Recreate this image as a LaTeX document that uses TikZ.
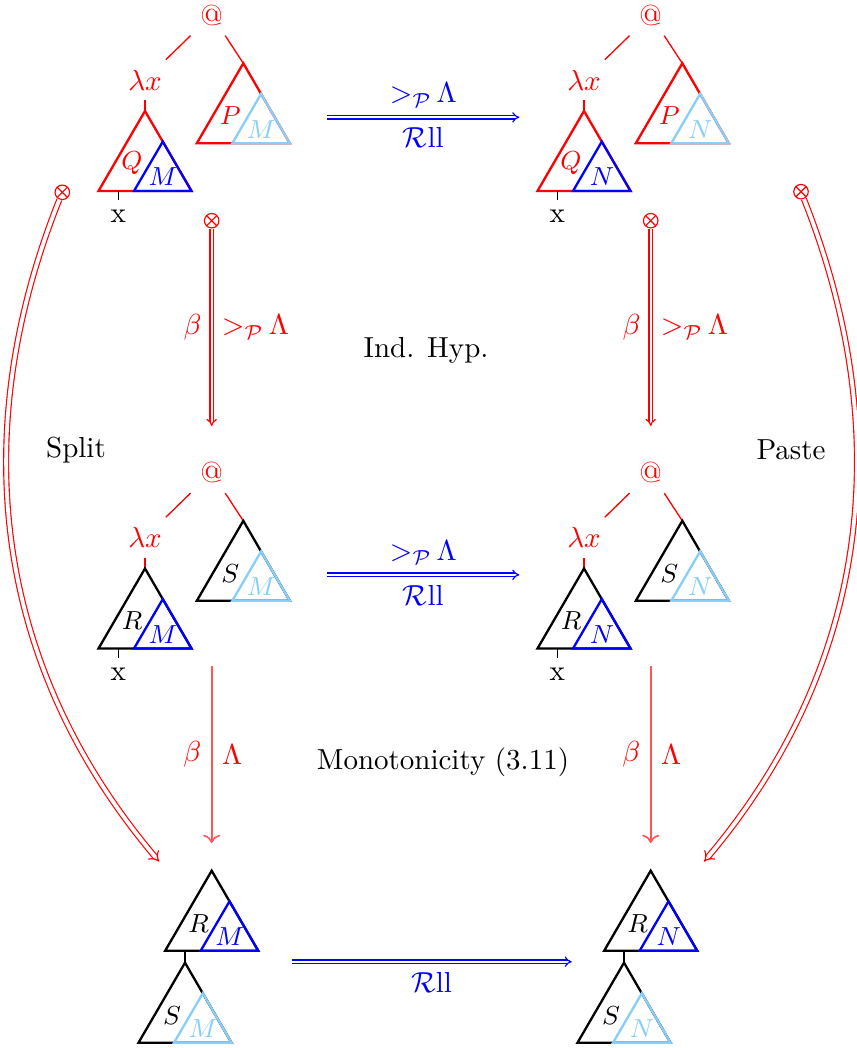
\documentclass[tikz,border=0pt]{standalone}
\usetikzlibrary{arrows.meta}
\definecolor{lblue}{RGB}{135,206,250}
\definecolor{lred}{RGB}{255,85,85}
\tikzset{
  tri/.style={line width=0.8pt, line join=miter},
  trilabel/.style={font=\small, inner sep=1pt},
  thinln/.style={line width=0.45pt},
  dblarrow/.style={double, double distance=0.8pt, line width=0.4pt, -{Implies}},
  curvearrow/.style={red, double, double distance=1.3pt, line width=0.4pt, -{Implies}},
  singlearrow/.style={lred, line width=0.55pt, ->},
  otimesnode/.style={circle, draw=red, line width=0.4pt, minimum size=5pt, inner sep=0pt,
    path picture={\draw[red,line width=0.4pt] (path picture bounding box.north west) -- (path picture bounding box.south east)
      (path picture bounding box.north east) -- (path picture bounding box.south west);}}
}
\newcommand{\gtP}{{>_{\mathcal{P}}}\,\Lambda}
% #1 x, #2 y, #3 outer colour, #4 inner colour, #5 outer label, #6 inner label, #7 name prefix
\newcommand{\drawtri}[7]{%
  \begin{scope}[shift={(#1,#2)}]
    \draw[tri,#3] (0,0) -- (-46.5,80) -- (46.5,80) -- cycle;
    \draw[tri,#4] (17.8,30.6) -- (-11,80) -- (46.5,80) -- cycle;
    \node[trilabel,text=#3] (#7ol) at (-13,52.5) {$#5$};
    \node[trilabel,text=#4] (#7il) at (18,66) {$#6$};
  \end{scope}}
% #1 prefix, #2 dx, #3 dy, #4 body colour, #5 body label, #6 inner colour, #7 inner label, #8 arg colour, #9 arg label
\newcommand{\apptree}[9]{%
  \begin{scope}[shift={(#2,#3)}]
    \node[text=red] (#1at) at (211.7,15) {@};
    \node[text=red] (#1lam) at (145,80) {$\lambda x$};
    \coordinate (#1b) at (145,111);
    \coordinate (#1a) at (243.3,63.3);
    \draw[thinln,red] (#1at) -- (#1lam);
    \draw[thinln,red] (#1at) -- (#1a);
    \draw[thinln,red] (#1lam) -- (#1b);
    \drawtri{145}{111}{#4}{#6}{#5}{#7}{#1b}
    \drawtri{243.3}{63.3}{#8}{lblue}{#9}{#7}{#1a}
    \coordinate (#1st) at (118.3,190.7);
    \node (#1x) at (118.3,216.7) {x};
    \draw[thinln] (#1st) -- (#1x);
  \end{scope}}
\begin{document}
\begin{tikzpicture}[x=0.345pt,y=-0.345pt]
\useasboundingbox (0,0) rectangle (856,1048);

% trees
\apptree{tl}{0}{0}{red}{Q}{blue}{M}{red}{P}
\apptree{tr}{439}{0}{red}{Q}{blue}{N}{red}{P}
\apptree{ml}{0}{457.5}{black}{R}{blue}{M}{black}{S}
\apptree{mr}{439}{457.5}{black}{R}{blue}{N}{black}{S}

% bottom trees
\drawtri{211.7}{870.7}{black}{blue}{R}{M}{blr}
\coordinate (blst) at (185,950);
\coordinate (bls) at (185,962.7);
\draw[thinln] (blst) -- (bls);
\drawtri{185}{962.7}{black}{lblue}{S}{M}{bls}

\drawtri{650.7}{870.7}{black}{blue}{R}{N}{brr}
\coordinate (brst) at (624,950);
\coordinate (brs) at (624,962.7);
\draw[thinln] (brst) -- (brs);
\drawtri{624}{962.7}{black}{lblue}{S}{N}{brs}

% horizontal arrows
\coordinate (h1s) at (327.3,117.3);
\coordinate (h1e) at (519.3,117.3);
\draw[dblarrow,blue] (h1s) -- node[above,text=blue] (h1a) {$\gtP$} node[below,text=blue] (h1b) {$\mathcal{R}\mathrm{ll}$} (h1e);
\coordinate (h2s) at (327.3,574.8);
\coordinate (h2e) at (519.3,574.8);
\draw[dblarrow,blue] (h2s) -- node[above,text=blue] (h2a) {$\gtP$} node[below,text=blue] (h2b) {$\mathcal{R}\mathrm{ll}$} (h2e);
\coordinate (h3s) at (291.7,961.7);
\coordinate (h3e) at (571.7,961.7);
\draw[dblarrow,blue] (h3s) -- node[below,text=blue] (h3b) {$\mathcal{R}\mathrm{ll}$} (h3e);

% vertical double arrows
\node[otimesnode] (o1) at (211.7,220.7) {};
\coordinate (v1e) at (211.7,426);
\draw[dblarrow,red] (o1) -- node[left,text=red] (v1l) {$\beta$} node[right,text=red] (v1r) {$\gtP$} (v1e);
\node[otimesnode] (o2) at (650.7,220.7) {};
\coordinate (v2e) at (650.7,426);
\draw[dblarrow,red] (o2) -- node[left,text=red] (v2l) {$\beta$} node[right,text=red] (v2r) {$\gtP$} (v2e);

% vertical single arrows
\coordinate (w1s) at (211.7,666);
\coordinate (w1e) at (211.7,843);
\draw[singlearrow] (w1s) -- node[left,text=red] (w1l) {$\beta$} node[right,text=red] (w1r) {$\Lambda$} (w1e);
\coordinate (w2s) at (650.7,666);
\coordinate (w2e) at (650.7,843);
\draw[singlearrow] (w2s) -- node[left,text=red] (w2l) {$\beta$} node[right,text=red] (w2r) {$\Lambda$} (w2e);

% curved arrows
\node[otimesnode] (os) at (62.3,192.3) {};
\coordinate (cse) at (159.3,861.7);
\draw[curvearrow] (os) .. controls (-30.5,424.5) and (-11.9,659.5) .. (cse);
\node[otimesnode] (op) at (801,191.7) {};
\coordinate (cpe) at (704,861.7);
\draw[curvearrow] (op) .. controls (893.5,424.5) and (874.9,659.5) .. (cpe);

% texts
\node (split) at (76,450) {Split};
\node (paste) at (791,450) {Paste};
\node (ind) at (426,350) {Ind. Hyp.};
\node (mono) at (443,762) {Monotonicity (3.11)};
\end{tikzpicture}
\end{document}
